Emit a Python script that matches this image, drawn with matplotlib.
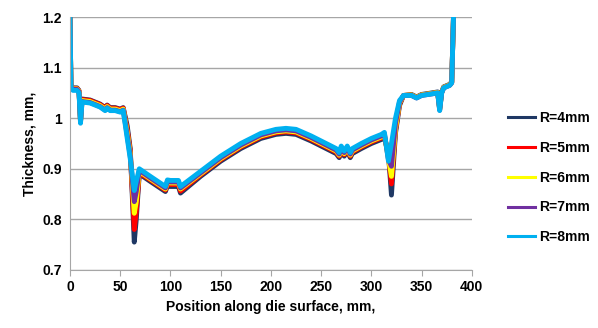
import matplotlib
matplotlib.use('Agg')
import matplotlib.pyplot as plt

# Position along die surface (mm)
x = [0, 1, 3, 7, 9, 10.5, 12, 20, 30, 35, 37, 40, 45, 50, 53, 57, 60, 64, 66, 69,
     80, 95, 97, 100, 105, 108, 110, 130, 150, 170, 190, 205, 215, 225, 240, 255,
     265, 268, 270, 273, 276, 279, 281, 290, 300, 310, 313, 317, 320, 324, 328, 332,
     340, 345, 350, 360, 366, 368, 370, 372, 378, 380, 382]

r4 = [1.20, 1.065, 1.06, 1.06, 1.055,
      0.995, 1.038, 1.036, 1.028, 1.021,
      1.026, 1.021, 1.021, 1.018, 1.021,
      0.985, 0.94, 0.755, 0.80, 0.89,
      0.875, 0.855, 0.866, 0.865, 0.865,
      0.865, 0.852, 0.885, 0.915, 0.94,
      0.96, 0.968, 0.97, 0.968, 0.955,
      0.94, 0.93, 0.922, 0.935, 0.925,
      0.935, 0.922, 0.93, 0.94, 0.95,
      0.958, 0.962, 0.93, 0.848, 0.97,
      1.025, 1.045, 1.047, 1.042, 1.047,
      1.05, 1.052, 1.02, 1.052, 1.062,
      1.067, 1.072, 1.22]

r5 = [1.20, 1.064, 1.059, 1.059, 1.054,
      0.994, 1.037, 1.035, 1.027, 1.02,
      1.025, 1.02, 1.02, 1.017, 1.02,
      0.978, 0.935, 0.78, 0.815, 0.892,
      0.878, 0.858, 0.87, 0.869, 0.869,
      0.869, 0.856, 0.888, 0.918, 0.943,
      0.963, 0.971, 0.973, 0.971, 0.958,
      0.943, 0.933, 0.925, 0.938, 0.928,
      0.938, 0.925, 0.933, 0.943, 0.953,
      0.961, 0.965, 0.925, 0.87, 0.975,
      1.028, 1.045, 1.046, 1.041, 1.046,
      1.049, 1.051, 1.018, 1.051, 1.061,
      1.066, 1.071, 1.22]

r6 = [1.20, 1.063, 1.058, 1.058, 1.053,
      0.993, 1.035, 1.033, 1.025, 1.018,
      1.023, 1.018, 1.018, 1.015, 1.018,
      0.972, 0.93, 0.812, 0.835, 0.895,
      0.88, 0.86, 0.873, 0.872, 0.872,
      0.872, 0.86, 0.89, 0.92, 0.945,
      0.965, 0.973, 0.975, 0.973, 0.96,
      0.945, 0.935, 0.927, 0.94, 0.93,
      0.94, 0.927, 0.935, 0.945, 0.955,
      0.963, 0.967, 0.92, 0.885, 0.98,
      1.03, 1.045, 1.046, 1.041, 1.046,
      1.049, 1.051, 1.017, 1.051, 1.061,
      1.066, 1.071, 1.22]

r7 = [1.20, 1.062, 1.057, 1.057, 1.052,
      0.992, 1.033, 1.031, 1.023, 1.016,
      1.021, 1.016, 1.016, 1.013, 1.016,
      0.966, 0.925, 0.835, 0.855, 0.897,
      0.882, 0.862, 0.875, 0.874, 0.874,
      0.874, 0.862, 0.892, 0.922, 0.947,
      0.967, 0.975, 0.977, 0.975, 0.962,
      0.947, 0.937, 0.929, 0.942, 0.932,
      0.942, 0.929, 0.937, 0.947, 0.957,
      0.965, 0.969, 0.918, 0.905, 0.99,
      1.032, 1.045, 1.045, 1.04, 1.045,
      1.048, 1.05, 1.016, 1.05, 1.06,
      1.065, 1.07, 1.22]

r8 = [1.20, 1.06, 1.055, 1.055, 1.05,
      0.99, 1.032, 1.03, 1.022, 1.015,
      1.02, 1.015, 1.015, 1.012, 1.015,
      0.96, 0.92, 0.857, 0.875, 0.90,
      0.885, 0.865, 0.878, 0.877, 0.877,
      0.877, 0.865, 0.895, 0.925, 0.95,
      0.97, 0.978, 0.98, 0.978, 0.965,
      0.95, 0.94, 0.932, 0.945, 0.935,
      0.945, 0.932, 0.94, 0.95, 0.96,
      0.968, 0.972, 0.915, 0.95, 1.0,
      1.035, 1.045, 1.045, 1.04, 1.045,
      1.048, 1.05, 1.015, 1.05, 1.06,
      1.065, 1.07, 1.22]

labels = ['R=4mm', 'R=5mm', 'R=6mm', 'R=7mm', 'R=8mm']
colors = ['#1F3864', '#FF0000', '#FFFF00', '#7030A0', '#00B0F0']

plt.rcParams['font.family'] = ['Liberation Sans', 'DejaVu Sans']
plt.rcParams['font.weight'] = 'bold'

fig = plt.figure(figsize=(5.98, 3.28), dpi=100)
ax = fig.add_axes([0.117, 0.177, 0.672, 0.771])

for ys, c, lab in zip([r4, r5, r6, r7, r8], colors, labels):
    ax.plot(x, ys, color=c, lw=3.5, label=lab, solid_joinstyle='round')

ax.set_xlim(0, 400)
ax.set_ylim(0.7, 1.2)
ax.set_xticks(range(0, 401, 50))
ax.set_yticks([0.7, 0.8, 0.9, 1.0, 1.1, 1.2])
ax.set_yticklabels(['0.7', '0.8', '0.9', '1', '1.1', '1.2'])
ax.grid(axis='y', color='#A6A6A6', lw=1)
ax.set_axisbelow(True)
for s in ['top', 'right']:
    ax.spines[s].set_visible(False)
for s in ['left', 'bottom']:
    ax.spines[s].set_color('#A6A6A6')
ax.tick_params(axis='x', colors='#A6A6A6', labelcolor='black', length=4, labelsize=10)
ax.tick_params(axis='y', length=0, labelsize=10, pad=6)

ax.set_xlabel('Position along die surface, mm,', fontsize=10, fontweight='bold')
ax.set_ylabel('Thickness, mm,', fontsize=10, fontweight='bold')

leg = fig.legend(loc='upper left', bbox_to_anchor=(0.828, 0.70), frameon=False,
                 prop={'size': 10, 'weight': 'bold'}, labelspacing=1.14,
                 handlelength=2.0, handletextpad=0.3)
for h in leg.get_lines():
    h.set_linewidth(2.2)

fig.savefig('out.png', dpi=100)
